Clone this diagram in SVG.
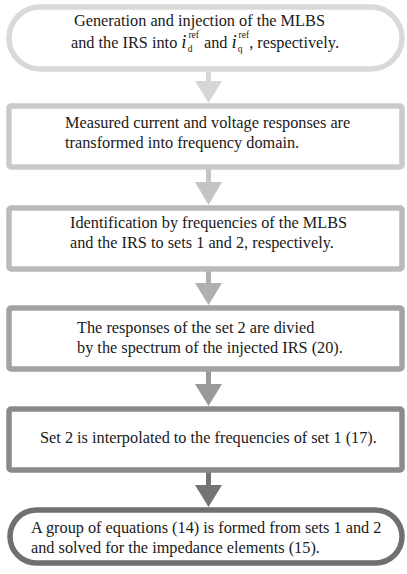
<svg xmlns="http://www.w3.org/2000/svg" width="407" height="574" viewBox="0 0 407 574">
  <style>
    .box { fill: #ffffff; stroke-width: 5.5; }
    .t { font-family: "Liberation Serif", "DejaVu Serif", "Times New Roman", serif; font-size: 16.3px; fill: #1a1a1a; }
    .sm { font-size: 9.5px; font-style: normal; }
    .it { font-style: italic; font-size: 19px; }
  </style>

  <!-- connectors: shaft + triangular head, shaded step by step -->
  <g id="connectors">
    <g fill="#d6d6d6">
      <rect x="206" y="71" width="5" height="11"/>
      <polygon points="195,81 222,81 208.5,103"/>
    </g>
    <g fill="#c4c4c4">
      <rect x="206" y="169" width="5" height="14"/>
      <polygon points="195,182 222,182 208.5,205"/>
    </g>
    <g fill="#b0b0b0">
      <rect x="206" y="271" width="5" height="13"/>
      <polygon points="195,283 222,283 208.5,305"/>
    </g>
    <g fill="#999999">
      <rect x="206" y="371" width="5" height="14"/>
      <polygon points="195,384 222,384 208.5,406"/>
    </g>
    <g fill="#747474">
      <rect x="206" y="472" width="5" height="14"/>
      <polygon points="195,485 222,485 208.5,507"/>
    </g>
  </g>

  <g id="step1">
    <rect class="box" x="9" y="7" width="393" height="62" rx="31" ry="31" stroke="#d9d9d9"/>
    <text class="t" x="74" y="26">Generation and injection of the MLBS</text>
    <text class="t" x="71" y="48">and the IRS into <tspan class="it">i</tspan><tspan class="sm" dx="1" dy="4">d</tspan><tspan class="sm" dx="-4" dy="-14">ref</tspan><tspan dx="1" dy="10"> and </tspan><tspan class="it">i</tspan><tspan class="sm" dx="1" dy="4">q</tspan><tspan class="sm" dx="-4" dy="-14">ref</tspan><tspan dy="10">, respectively.</tspan></text>
  </g>

  <g id="step2">
    <rect class="box" x="9" y="106" width="393" height="61" rx="2" stroke="#cacaca"/>
    <text class="t" x="65" y="128">Measured current and voltage responses are</text>
    <text class="t" x="65" y="148">transformed into frequency domain.</text>
  </g>

  <g id="step3">
    <rect class="box" x="9" y="208" width="393" height="61" rx="2" stroke="#bababa"/>
    <text class="t" x="70" y="228">Identification by frequencies of the MLBS</text>
    <text class="t" x="70" y="248">and the IRS to sets 1 and 2, respectively.</text>
  </g>

  <g id="step4">
    <rect class="box" x="9" y="308" width="393" height="61" rx="2" stroke="#a3a3a3"/>
    <text class="t" x="77" y="333">The responses of the set 2 are divied</text>
    <text class="t" x="77" y="353">by the spectrum of the injected IRS (20).</text>
  </g>

  <g id="step5">
    <rect class="box" x="9" y="409" width="393" height="61" rx="2" stroke="#8a8a8a"/>
    <text class="t" x="40" y="443">Set 2 is interpolated to the frequencies of set 1 (17).</text>
  </g>

  <g id="step6">
    <rect class="box" x="10" y="510" width="392" height="53" rx="26.5" ry="26.5" stroke="#707070"/>
    <text class="t" x="31" y="533">A group of equations (14) is formed from sets 1 and 2</text>
    <text class="t" x="31" y="553">and solved for the impedance elements (15).</text>
  </g>
</svg>
